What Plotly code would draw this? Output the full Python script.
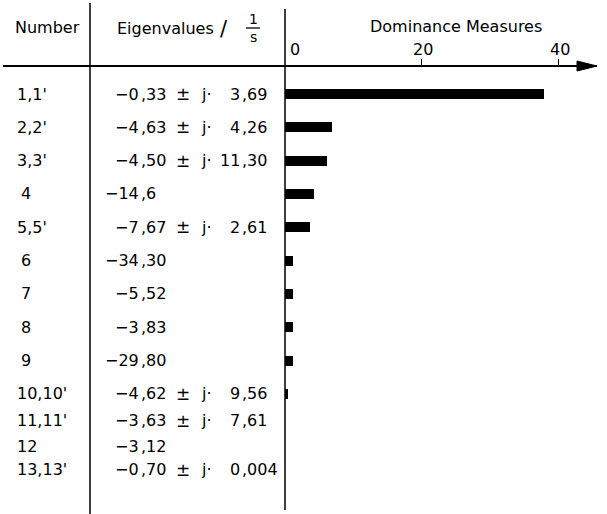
import plotly.graph_objects as go

# ---- data -------------------------------------------------------------
numbers = ["1,1'", "2,2'", "3,3'", "4", "5,5'", "6", "7", "8", "9",
           "10,10'", "11,11'", "12", "13,13'"]
real_parts = ["−0,33", "−4,63", "−4,50", "−14,6", "−7,67", "−34,30", "−5,52",
              "−3,83", "−29,80", "−4,62", "−3,63", "−3,12", "−0,70"]
imag_parts = ["3,69", "4,26", "11,30", "", "2,61", "", "", "", "",
              "9,56", "7,61", "", "0,004"]
dominance = [37.8, 6.8, 6.2, 4.3, 3.7, 1.2, 1.2, 1.2, 1.2, 0.5, 0.0, 0.0, 0.0]
tick_values = [0, 20, 40]

# ---- page geometry (pixels) -------------------------------------------
W, H = 607, 514
X0_PX, PX_PER_UNIT = 285, 6.845        # where 0 sits and scale of the bar axis
AXIS_Y_PX = 66                          # header rule / value axis
FIRST_ROW_PX, ROW_PX = 94, 33.33        # first row centre, row pitch
AXIS_END_PX = 597

FONT = "DejaVu Sans"
FS = 16


def px(x):
    return x / W


def py(y):
    return 1 - y / H


# row centres in row units; the last three rows are set closer together
row_pitch = [1.0] * 10 + [0.8, 0.78, 0.7]
row_y = []
acc = 0.0
for i, p in enumerate(row_pitch):
    if i > 0:
        acc += p
    row_y.append(acc)

y_top = -FIRST_ROW_PX / ROW_PX
y_bot = (H - FIRST_ROW_PX) / ROW_PX
x_hi = (AXIS_END_PX - X0_PX) / PX_PER_UNIT

fig = go.Figure()
fig.add_trace(go.Bar(
    x=dominance, y=row_y, orientation="h", width=0.3,
    marker=dict(color="black", line=dict(width=0)),
    hoverinfo="skip", showlegend=False,
))

annotations = []


def text(s, x, y, yref="paper", xanchor="center", size=FS):
    annotations.append(dict(
        text=s, x=x, y=y, xref="paper", yref=yref, xanchor=xanchor,
        yanchor="middle", showarrow=False, borderpad=0,
        font=dict(family=FONT, size=size, color="black"),
    ))


# header
text("Number", px(48), py(27))
text("Eigenvalues", px(116), py(28), xanchor="left")
text("/", px(224), py(29), size=21)
text("1", px(253), py(19), size=14)
text("s", px(253), py(37), size=14)
text("Dominance Measures", px(456), py(26))

# value-axis labels
for v in tick_values:
    shift = 9 if v == 0 else 0
    annotations.append(dict(
        text=str(v), x=v, y=py(50), xref="x", yref="paper",
        xanchor="center", yanchor="middle",
        xshift=shift + 1, showarrow=False, borderpad=0,
        font=dict(family=FONT, size=FS, color="black"),
    ))

# table rows
COMMA_RE = 140
COMMA_IM = 241
for i, yy in enumerate(row_y):
    n = numbers[i]
    text(n, px(16 if len(n) > 1 else 20), yy, yref="y", xanchor="left")
    ip, fp = real_parts[i].split(",")
    text(ip, px(COMMA_RE), yy, yref="y", xanchor="right")
    text("," + fp, px(COMMA_RE), yy, yref="y", xanchor="left")
    if imag_parts[i]:
        text("±", px(183), yy, yref="y", size=17)
        text("j·", px(200), yy, yref="y", xanchor="left")
        a, b = imag_parts[i].split(",")
        text(a, px(COMMA_IM), yy, yref="y", xanchor="right")
        text("," + b, px(COMMA_IM), yy, yref="y", xanchor="left")

# rules
LW = 1.5
shapes = [
    dict(type="line", xref="paper", yref="paper", x0=px(90), x1=px(90),
         y0=py(3), y1=py(H), line=dict(color="black", width=LW)),
    dict(type="line", xref="x", yref="paper", x0=0, x1=0,
         y0=py(9), y1=py(510), line=dict(color="black", width=LW)),
    dict(type="line", xref="paper", yref="paper", x0=px(246), x1=px(260),
         y0=py(28), y1=py(28), line=dict(color="black", width=1.3)),
    # arrow head at the end of the value axis
    dict(type="path", xref="x", yref="paper", xsizemode="pixel", ysizemode="pixel",
         xanchor=x_hi, yanchor=py(AXIS_Y_PX),
         path="M 0,0 L -20,5 L -20,-5 Z",
         fillcolor="black", line=dict(color="black", width=1)),
]

fig.update_layout(
    width=W, height=H,
    margin=dict(l=0, r=0, t=0, b=0),
    paper_bgcolor="white", plot_bgcolor="white",
    bargap=0,
    xaxis=dict(
        domain=[px(3), px(AXIS_END_PX)],
        range=[(3 - X0_PX) / PX_PER_UNIT, x_hi],
        side="top", anchor="free", position=py(AXIS_Y_PX),
        showline=True, linecolor="black", linewidth=LW,
        ticks="outside", ticklen=6, tickwidth=1.2, tickcolor="black",
        tickvals=[v for v in tick_values if v != 0],
        showticklabels=False, showgrid=False, zeroline=False,
        fixedrange=True,
    ),
    yaxis=dict(
        domain=[0, 1], range=[y_bot, y_top],
        visible=False, showgrid=False, zeroline=False, fixedrange=True,
    ),
    annotations=annotations,
    shapes=shapes,
    showlegend=False,
)

fig.write_html("out.html")
